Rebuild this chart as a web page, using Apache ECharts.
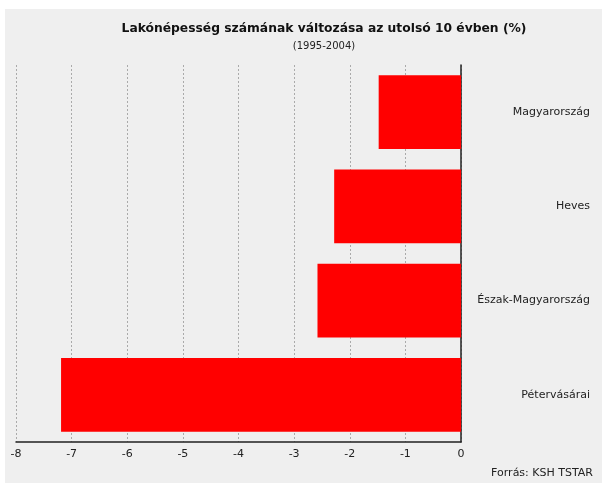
<!DOCTYPE html>
<html lang="hu">
<head>
    <meta charset="UTF-8">
    <title>Lakónépesség</title>
    <script type="text/javascript" src="https://cdn.jsdelivr.net/npm/echarts@6/dist/echarts.min.js"></script>
</head>
<body style="margin: 0; background: #fff">

<div id="chart" style="position: absolute; left: 5px; top: 9px; width: 597px; height: 474px; background: #efefef"></div>

<script type="text/javascript">
    // területek és a változás (%)
    var teruletek = ['Magyarország', 'Heves', 'Észak-Magyarország', 'Pétervásárai'];
    var valtozas = [-1.48, -2.28, -2.58, -7.19];
    var tengelyMin = -8;
    var tengelyMax = 0;

    var chart = echarts.init(document.getElementById('chart'));
    var option = {
        animation: false,
        textStyle: { fontFamily: 'DejaVu Sans' },
        title: [
            {
                text: 'Lakónépesség számának változása az utolsó 10 évben (%)',
                subtext: '(1995-2004)',
                left: 314,
                top: 9,
                textAlign: 'center',
                itemGap: 6,
                textStyle: { fontSize: 12.3, fontWeight: 'bold', color: '#111' },
                subtextStyle: { fontSize: 10, color: '#222' }
            },
            {
                text: 'Forrás: KSH TSTAR',
                right: 4,
                top: 454,
                textStyle: { fontSize: 11, fontWeight: 'normal', color: '#222' }
            }
        ],
        grid: { left: 11, right: 141, top: 56, bottom: 41 },
        xAxis: {
            type: 'value',
            min: tengelyMin,
            max: tengelyMax,
            interval: 1,
            axisLine: { show: true, lineStyle: { color: '#222', width: 1.5 } },
            axisTick: { show: false },
            axisLabel: { fontSize: 11, color: '#222', margin: 7 },
            splitLine: { show: true, lineStyle: { color: '#aaa', type: [2, 2] } }
        },
        yAxis: {
            type: 'category',
            data: teruletek,
            inverse: true,
            position: 'right',
            axisLine: { show: true, lineStyle: { color: '#222', width: 1.5 } },
            axisTick: { show: false },
            axisLabel: { fontSize: 11, color: '#222', align: 'right', margin: 129 }
        },
        series: [
            {
                type: 'bar',
                data: valtozas,
                barCategoryGap: '22%',
                itemStyle: { color: '#ff0000' }
            }
        ]
    };
    chart.setOption(option);
</script>

</body>
</html>
